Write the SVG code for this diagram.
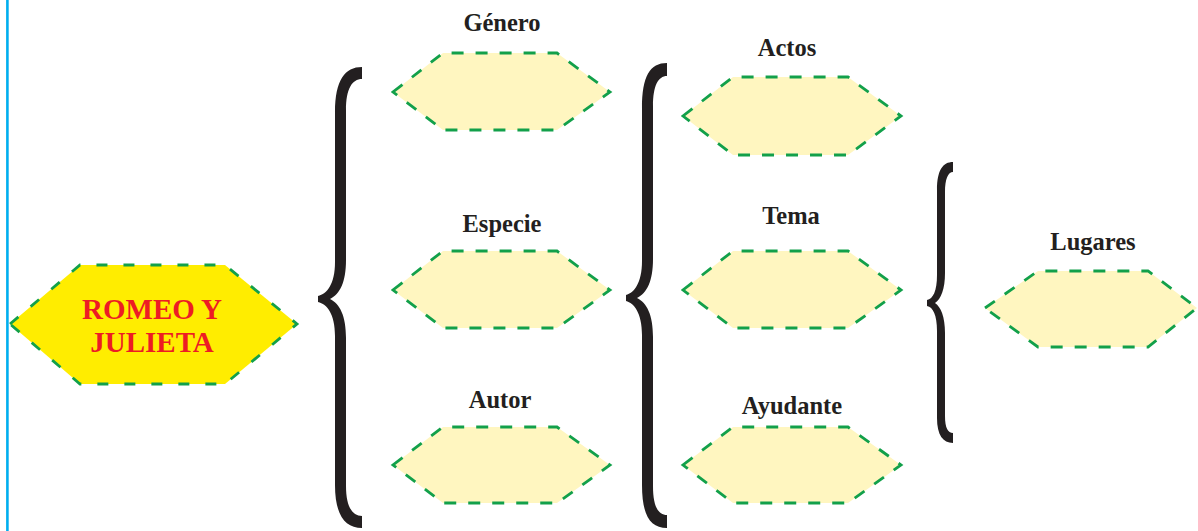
<svg xmlns="http://www.w3.org/2000/svg" width="1198" height="531" viewBox="0 0 1198 531">
<style>
.hx{fill:#FFF6C0;stroke:#12A04A;stroke-width:2.8;stroke-dasharray:12 12;stroke-linejoin:miter}
.main{fill:#FFED00;stroke:#12A04A;stroke-width:2.8;stroke-dasharray:11 16}
.lbl{font-family:"Liberation Serif",serif;font-weight:bold;font-size:24.5px;fill:#231F20;text-anchor:middle}
.ttl{font-family:"Liberation Serif",serif;font-weight:bold;font-size:29px;fill:#ED1C24;text-anchor:middle}
.br{fill:#231F20}
</style>
<rect width="1198" height="531" fill="#ffffff"/>
<line x1="7.4" y1="0" x2="7.4" y2="531" stroke="#00AEEF" stroke-width="2.6"/>
<g id="connectors">
<path class="br" d="M362,67 C345,67 335,80 335,112 L335,262 C335,284 327,294 318,296 L318,302 C327,304 335,314 335,336 L335,485 C335,515 345,528 362,528 L362,516 C352,516 346,506 346,486 L346,338 C346,316 340,304 330,299 C340,294 346,282 346,260 L346,110 C346,89 352,79 362,79 Z"/>
<path class="br" d="M667,63 C650,63 642,76 642,108 L642,261 C642,283 634,293 626,295 L626,301 C634,303 642,313 642,335 L642,485 C642,515 650,528 667,528 L667,515 C658,515 653,506 653,486 L653,337 C653,315 647,303 637,298 C647,293 653,281 653,259 L653,106 C653,86 658,76 667,76 Z"/>
<path class="br" d="M953,162 C943,162 937,170 937,190 L937,275 C937,291 933,299 927,300 L927,306 C933,307 937,315 937,331 L937,418 C937,435 943,443 953,443 L953,433 C948,433 945,428 945,416 L945,333 C945,317 941,307 935,303 C941,299 945,289 945,273 L945,192 C945,179 948,172 953,172 Z"/>
</g>
<g id="romeo-y-julieta">
<polygon class="main" points="10,324 80,265 225,265 297,324 225,384 80,384"/>
<text class="ttl" x="152" y="319">ROMEO Y</text>
<text class="ttl" x="152" y="352">JULIETA</text>
</g>
<g id="genero">
<text class="lbl" x="502" y="31">Género</text>
<polygon class="hx" points="393,92 443,53 557,53 610,92 557,130 443,130"/>
</g>
<g id="especie">
<text class="lbl" x="502" y="232">Especie</text>
<polygon class="hx" points="393,290 443,251 557,251 610,290 557,328 443,328"/>
</g>
<g id="autor">
<text class="lbl" x="500" y="408">Autor</text>
<polygon class="hx" points="393,465 443,427 557,427 610,465 557,503 443,503"/>
</g>
<g id="actos">
<text class="lbl" x="787" y="56">Actos</text>
<polygon class="hx" points="683,116 733,77 848,77 901,116 848,155 733,155"/>
</g>
<g id="tema">
<text class="lbl" x="791" y="224">Tema</text>
<polygon class="hx" points="683,290 733,251 848,251 901,290 848,328 733,328"/>
</g>
<g id="ayudante">
<text class="lbl" x="792" y="414">Ayudante</text>
<polygon class="hx" points="683,465 733,427 848,427 901,465 848,503 733,503"/>
</g>
<g id="lugares">
<text class="lbl" x="1093" y="250">Lugares</text>
<polygon class="hx" points="985,308 1038,271 1148,271 1197,308 1148,347 1038,347"/>
</g>
</svg>
